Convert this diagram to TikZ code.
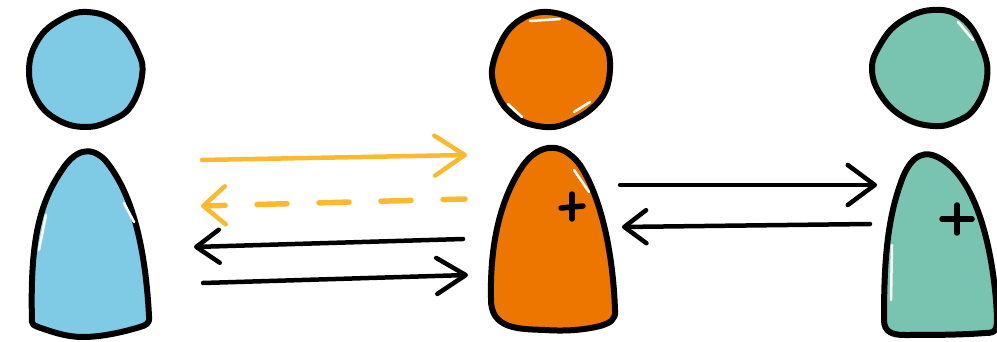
\documentclass[tikz,border=0pt]{standalone}
\usepackage{xcolor}
\usetikzlibrary{arrows.meta}

\definecolor{skyfill}{HTML}{7FCBE6}
\definecolor{orangefill}{HTML}{EC7600}
\definecolor{tealfill}{HTML}{78C4B0}
\definecolor{ambertone}{HTML}{FBB92E}

\tikzset{
    person/.style={draw=black, line width=6pt, line join=round},
    plus/.style={draw=black, line width=5.5pt, line cap=round},
    glint/.style={draw=white, line width=2.5pt, line cap=round},
    flow/.style 2 args={line width=4.5pt, line cap=round,
        -{Straight Barb[length=#1pt, width=#2pt, line width=4.5pt, round]}},
}

\begin{document}
\begin{tikzpicture}[x=1pt, y=-1pt]
\useasboundingbox (0, 0) rectangle (997, 342);

\begin{scope}[every node/.style={}]
    % left
    \draw [person, fill=skyfill] plot [smooth cycle, tension=0.7] coordinates {
        (87, 12) (118, 23) (138, 52) (142, 76) (131, 106) (112, 120) (86, 127)
        (58, 120) (37, 100) (29, 70) (38, 40) (60, 20)};
    \draw [person, fill=skyfill] (32, 322) .. controls (30, 245) and (38, 205) .. (62, 170)
        .. controls (75, 150) and (90, 145) .. (105, 160)
        .. controls (130, 190) and (145, 240) .. (149, 316)
        .. controls (150, 324) and (146, 325) .. (140, 327)
        .. controls (120, 333) and (100, 337) .. (83, 337)
        .. controls (65, 337) and (50, 331) .. (38, 327)
        .. controls (34, 325) and (32, 325) .. (32, 322) -- cycle;
    % middle
    \draw [person, fill=orangefill] plot [smooth cycle, tension=0.6] coordinates {
        (548, 12) (575, 20) (603, 42) (610, 62) (606, 90) (590, 110) (565, 124)
        (545, 127) (520, 120) (500, 100) (492, 70) (505, 35) (525, 17)};
    \draw [person, fill=orangefill] (491, 298) .. controls (490, 250) and (498, 205) .. (520, 170)
        .. controls (535, 145) and (560, 138) .. (580, 165)
        .. controls (600, 195) and (613, 250) .. (615, 310)
        .. controls (616, 320) and (610, 323) .. (600, 326)
        .. controls (580, 331) and (560, 331) .. (545, 330)
        .. controls (520, 329) and (490, 330) .. (491, 298) -- cycle;
    \draw [plus] (561, 208) -- (583, 206);
    \draw [plus] (572, 194) -- (572, 219);
    % right
    \draw [person, fill=tealfill] plot [smooth cycle, tension=0.7] coordinates {
        (932, 10) (962, 18) (982, 48) (987, 78) (975, 108) (955, 122) (933, 126)
        (905, 118) (882, 97) (872, 70) (880, 45) (900, 22)};
    \draw [person, fill=tealfill] (884, 320) .. controls (884, 270) and (886, 225) .. (900, 185)
        .. controls (908, 160) and (920, 150) .. (935, 156)
        .. controls (970, 170) and (990, 230) .. (996, 300)
        .. controls (998, 330) and (998, 333) .. (985, 333)
        .. controls (960, 335) and (930, 335) .. (905, 335)
        .. controls (892, 335) and (884, 332) .. (884, 320) -- cycle;
    \draw [plus] (942, 219) -- (972, 219);
    \draw [plus] (957, 205) -- (957, 233);
    % bright gaps between fill and outline
    \draw [glint] (124, 203) -- (134, 222);
    \draw [glint] (39, 250) -- (46, 215);
    \draw [glint] (574, 170) -- (589, 192);
    \draw [glint] (508, 104) -- (522, 117);
    \draw [glint] (574, 112) -- (590, 102);
    \draw [glint] (530, 21) -- (560, 19);
    \draw [glint] (891, 300) -- (892, 245);
    \draw [glint] (958, 22) -- (973, 40);
\end{scope}

\begin{scope}[every node/.style={}]
    \coordinate (LeftOutA) at (202, 160);
    \coordinate (MidInA) at (467, 155);
    \coordinate (MidOutA) at (465, 199);
    \coordinate (LeftInA) at (201, 206);
    \coordinate (MidOutB) at (463, 239);
    \coordinate (LeftInB) at (194, 247);
    \coordinate (LeftOutB) at (203, 283);
    \coordinate (MidInB) at (468, 275);
    \coordinate (MidOutC) at (620, 185);
    \coordinate (RightIn) at (877, 185);
    \coordinate (RightOut) at (870, 224);
    \coordinate (MidInC) at (622, 227);
\end{scope}

\begin{scope}[every edge/.style={draw}]
    % left and middle
    \path (LeftOutA) edge [flow={30}{40}, draw=ambertone] (MidInA);
    \path (MidOutA) edge [flow={22}{38}, draw=ambertone, line width=5.5pt,
        dash pattern=on 30pt off 32pt, dash phase=8pt] (LeftInA);
    \path (MidOutB) edge [flow={23}{33}] (LeftInB);
    \path (LeftOutB) edge [flow={29}{36}] (MidInB);
    % middle and right
    \path (MidOutC) edge [flow={27}{40}] (RightIn);
    \path (RightOut) edge [flow={22}{33}] (MidInC);
\end{scope}
\end{tikzpicture}
\end{document}
